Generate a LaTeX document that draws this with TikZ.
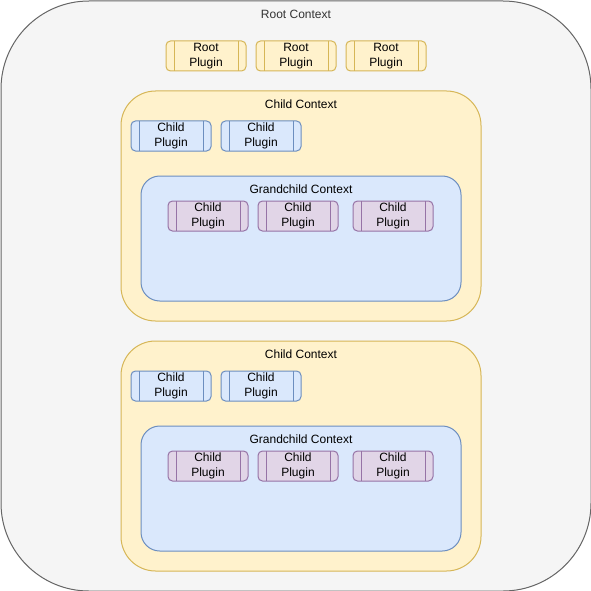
\documentclass[tikz,border=0pt]{standalone}
\usepackage{fontspec}
\setmainfont{Liberation Sans}
\definecolor{rootfill}{HTML}{F5F5F5}
\definecolor{rootline}{HTML}{666666}
\definecolor{rootfont}{HTML}{333333}
\definecolor{yellowfill}{HTML}{FFF2CC}
\definecolor{yellowline}{HTML}{D6B656}
\definecolor{bluefill}{HTML}{DAE8FC}
\definecolor{blueline}{HTML}{6C8EBF}
\definecolor{purplefill}{HTML}{E1D5E7}
\definecolor{purpleline}{HTML}{9673A6}
\tikzset{
  box/.style={anchor=north west, line width=1pt, inner sep=0pt},
  title/.style={anchor=base, inner sep=0pt, font=\fontsize{12}{15}\selectfont},
  plugin/.style={anchor=north west, draw=#1, line width=1pt, inner sep=0pt,
    minimum width=80pt, minimum height=30pt, rounded corners=4.5pt,
    align=center, font=\fontsize{12}{15}\selectfont,
    path picture={\draw[line width=1pt, draw=#1]
      ([xshift=8pt]path picture bounding box.north west) -- ([xshift=8pt]path picture bounding box.south west)
      ([xshift=-8pt]path picture bounding box.north east) -- ([xshift=-8pt]path picture bounding box.south east);}},
}
\begin{document}
\begin{tikzpicture}[x=1pt,y=-1pt]
  \useasboundingbox (0,0) rectangle (591,591);

  % Root context
  \node [box, draw=rootline, fill=rootfill, rounded corners=88pt, minimum width=590pt, minimum height=590pt] (root) at (0.5,0.5) {};
  \node [title, text=rootfont] (roottitle) at ([yshift=-18pt]root.north) {Root Context};

  % Root plugins
  \node [plugin=yellowline, fill=yellowfill] (rootplugA) at (165.5,40.5) {Root\\Plugin};
  \node [plugin=yellowline, fill=yellowfill] (rootplugB) at (255.5,40.5) {Root\\Plugin};
  \node [plugin=yellowline, fill=yellowfill] (rootplugC) at (345.5,40.5) {Root\\Plugin};

  % First child context
  \node [box, draw=yellowline, fill=yellowfill, rounded corners=34.5pt, minimum width=360pt, minimum height=230pt] (childA) at (120.5,90.5) {};
  \node [title] (childAtitle) at ([yshift=-18pt]childA.north) {Child Context};
  \node [plugin=blueline, fill=bluefill] (childAplugA) at (130.5,120.5) {Child\\Plugin};
  \node [plugin=blueline, fill=bluefill] (childAplugB) at (220.5,120.5) {Child\\Plugin};

  % First grandchild context
  \node [box, draw=blueline, fill=bluefill, rounded corners=18.75pt, minimum width=320pt, minimum height=125pt] (grandA) at (140.5,175.5) {};
  \node [title] (grandAtitle) at ([yshift=-18pt]grandA.north) {Grandchild Context};
  \node [plugin=purpleline, fill=purplefill] (grandAplugA) at (167.5,200.5) {Child\\Plugin};
  \node [plugin=purpleline, fill=purplefill] (grandAplugB) at (257.5,200.5) {Child\\Plugin};
  \node [plugin=purpleline, fill=purplefill] (grandAplugC) at (352.5,200.5) {Child\\Plugin};

  % Second child context
  \node [box, draw=yellowline, fill=yellowfill, rounded corners=34.5pt, minimum width=360pt, minimum height=230pt] (childB) at (120.5,340.5) {};
  \node [title] (childBtitle) at ([yshift=-18pt]childB.north) {Child Context};
  \node [plugin=blueline, fill=bluefill] (childBplugA) at (130.5,370.5) {Child\\Plugin};
  \node [plugin=blueline, fill=bluefill] (childBplugB) at (220.5,370.5) {Child\\Plugin};

  % Second grandchild context
  \node [box, draw=blueline, fill=bluefill, rounded corners=18.75pt, minimum width=320pt, minimum height=125pt] (grandB) at (140.5,425.5) {};
  \node [title] (grandBtitle) at ([yshift=-18pt]grandB.north) {Grandchild Context};
  \node [plugin=purpleline, fill=purplefill] (grandBplugA) at (167.5,450.5) {Child\\Plugin};
  \node [plugin=purpleline, fill=purplefill] (grandBplugB) at (257.5,450.5) {Child\\Plugin};
  \node [plugin=purpleline, fill=purplefill] (grandBplugC) at (352.5,450.5) {Child\\Plugin};
\end{tikzpicture}
\end{document}
